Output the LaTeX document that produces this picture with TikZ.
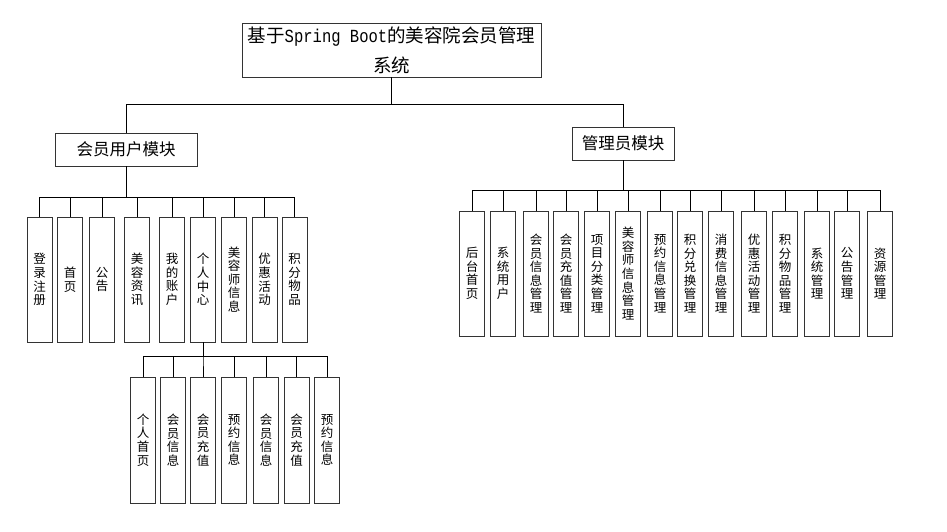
\documentclass[tikz,border=0pt]{standalone}
\usepackage{fontspec}
\setmainfont{Noto Sans CJK SC}
\newfontfamily\sbfont{Liberation Mono}

\begin{document}
\begin{tikzpicture}[x=1pt,y=-1pt,
  box/.style={draw=black!80,line width=0.9pt,fill=white,inner sep=0pt},
  vbox/.style={box,minimum width=25,minimum height=125,align=center,font=\fontsize{12.5}{13.6}\selectfont},
  modbox/.style={box,minimum height=33,font=\fontsize{16.5}{20}\selectfont},
  link/.style={draw=black,line width=0.8pt}]
\useasboundingbox (0,0) rectangle (947,532);

\node[box,minimum width=299,minimum height=54,align=center,font=\fontsize{18.5}{30}\selectfont] (root) at (391.5,50)
  {基于{\sbfont\scalebox{0.84}[1]{Spring Boot}}的美容院会员管理\\系统};
\node[modbox,minimum width=142] (user) at (126,149.5) {会员用户模块};
\node[modbox,minimum width=102] (admin) at (623,143.5) {管理员模块};

\coordinate (top) at (0,104);
\coordinate (ubus) at (0,197);
\coordinate (abus) at (0,190);
\coordinate (pbus) at (0,356);

\draw[link] (root.south) -- (root.south |- top) -| (user.north);
\draw[link] (root.south |- top) -| (admin.north);

% member user side
\foreach \n/\x/\lbl in {u1/39.5/登\\录\\注\\册, u2/70/首\\页, u3/102/公\\告, u4/137/美\\容\\资\\讯,
    u5/172/我\\的\\账\\户, u6/203/个\\人\\中\\心, u7/234/美\\容\\师\\信\\息,
    u8/264.5/优\\惠\\活\\动, u9/294.5/积\\分\\物\\品} {
  \node[vbox] (\n) at (\x,279.5) {\lbl};
  \draw[link] (user.south) -- (user.south |- ubus) -| (\n.north);
}

\foreach \n/\x/\lbl in {p1/143/个\\人\\首\\页, p2/173/会\\员\\信\\息, p3/203/会\\员\\充\\值,
    p4/234/预\\约\\信\\息, p5/266/会\\员\\信\\息, p6/296.5/会\\员\\充\\值, p7/327/预\\约\\信\\息} {
  \node[vbox,minimum height=126] (\n) at (\x,440) {\lbl};
  \draw[link] (u6.south) -- (u6.south |- pbus) -| (\n.north);
}

% admin side
\foreach \n/\x/\lbl in {a1/472/后\\台\\首\\页, a2/503/系\\统\\用\\户, a3/536/会\\员\\信\\息\\管\\理,
    a4/566/会\\员\\充\\值\\管\\理, a5/597/项\\目\\分\\类\\管\\理, a6/628/美\\容\\师\\信\\息\\管\\理,
    a7/660/预\\约\\信\\息\\管\\理, a8/690/积\\分\\兑\\换\\管\\理, a9/721/消\\费\\信\\息\\管\\理,
    a10/754/优\\惠\\活\\动\\管\\理, a11/785/积\\分\\物\\品\\管\\理, a12/817/系\\统\\管\\理,
    a13/847/公\\告\\管\\理, a14/880/资\\源\\管\\理} {
  \node[vbox] (\n) at (\x,273.5) {\lbl};
  \draw[link] (admin.south) -- (admin.south |- abus) -| (\n.north);
}
\end{tikzpicture}
\end{document}
